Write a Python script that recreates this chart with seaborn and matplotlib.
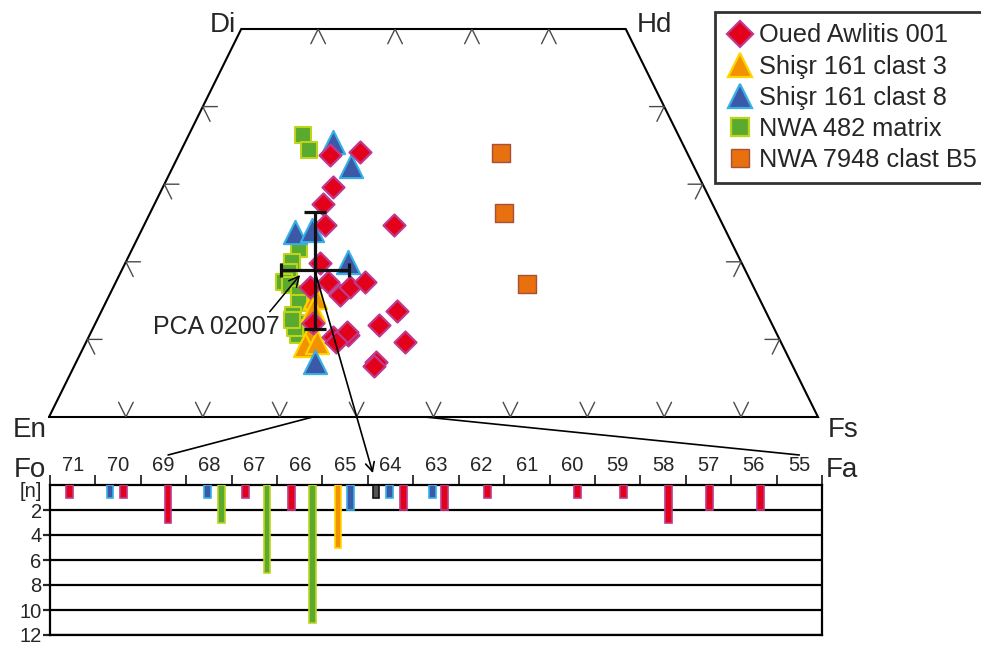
import matplotlib
matplotlib.use("Agg")
import matplotlib.pyplot as plt
import numpy as np
import pandas as pd
import seaborn as sns
from matplotlib.lines import Line2D
from matplotlib.patches import ConnectionPatch
from matplotlib.transforms import blended_transform_factory

# --- pyroxene quadrilateral data (mol%: Fs, Wo) ---
oa_fs = [19.7, 23.4, 22.1, 21.9, 23.6, 32.5, 25.3, 27.6, 25.6, 30.0, 30.8,
         32.4, 28.3, 31.8, 33.6, 36.9, 38.5, 41.4, 39.0, 39.0, 33.2, 32.5]
oa_wo = [33.8, 34.2, 29.7, 27.5, 24.7, 24.7, 19.8, 17.4, 16.8, 15.7, 16.8,
         17.4, 12.1, 10.3, 10.6, 11.9, 13.6, 9.7, 7.1, 6.6, 11.0, 9.7]
s3_fs = [26.9, 27.4, 28.7, 28.6, 30.0]
s3_wo = [15.5, 13.8, 10.6, 9.3, 9.7]
s8_fs = [19.2, 23.1, 20.1, 22.1, 28.9, 31.0]
s8_wo = [35.5, 32.3, 23.9, 24.1, 20.0, 7.1]
nwa482_fs = [14.9, 16.6, 21.7, 21.6, 21.8, 21.9, 22.8, 24.5, 25.1, 25.2,
             26.4, 27.1, 26.3, 25.4]
nwa482_wo = [36.3, 34.4, 21.7, 20.0, 18.7, 17.4, 17.0, 15.9, 14.7, 13.1,
             12.1, 10.6, 11.5, 12.5]
nwa7948_fs = [41.8, 46.0, 53.5]
nwa7948_wo = [34.0, 26.3, 17.2]

# PCA 02007 mean and spread
pca_fs, pca_wo = 25.1, 18.9
pca_x_err, pca_wo_err = 4.4, 7.5

# --- olivine histogram (Fo, count) ---
oa_fo = [71.07, 69.89, 68.90, 67.20, 66.19, 63.72, 62.81, 61.86, 59.88,
         58.88, 57.88, 56.97, 55.86]
oa_n = [1, 1, 3, 1, 2, 2, 2, 1, 1, 1, 3, 2, 2]
s3_fo = [65.16]
s3_n = [5]
s8_fo = [70.18, 68.04, 64.88, 64.02, 63.07]
s8_n = [1, 1, 2, 1, 1]
nwa482_fo = [67.73, 66.72, 65.72]
nwa482_n = [3, 7, 11]
pca_fo = [64.32]
pca_n = [1]

fo_labels = list(range(71, 54, -1))
quad_ticks = [10, 20, 30, 40]
base_ticks = list(range(10, 100, 10))

# links between the quadrilateral base (Fs) and the Fo scale
link_fs = [34.3, 48.9]
link_fo = [68.9, 55.0]

labels = ["Oued Awlitis 001", "Shişr 161 clast 3", "Shişr 161 clast 8",
          "NWA 482 matrix", "NWA 7948 clast B5"]

RED, RED_E = "#e2001a", "#c0398c"
ORA, ORA_E = "#f39200", "#ffd400"
BLU, BLU_E = "#3b59a6", "#36b0e6"
GRN, GRN_E = "#5aaa30", "#bed41c"
BRN, BRN_E = "#e8700e", "#a4513a"

sns.set_style("white")
plt.rcParams["font.family"] = ["Liberation Sans", "DejaVu Sans"]


def proj(fs, wo):
    fs = np.asarray(fs, dtype=float)
    wo = np.asarray(wo, dtype=float)
    return fs + wo / 2, wo


fig = plt.figure(figsize=(9.81, 6.45), dpi=100)
ax_t = fig.add_axes([49 / 981, 1 - 417 / 645, 769 / 981, 388 / 645])
ax_h = fig.add_axes([50 / 981, 10 / 645, 772 / 981, 150 / 645])

# quadrilateral outline
ax_t.set_xlim(0, 100)
ax_t.set_ylim(0, 50)
ax_t.axis("off")
qx, qy = proj([0, 100, 50, 0, 0], [0, 0, 50, 50, 0])
ax_t.plot(qx, qy, color="black", lw=1.5, solid_joinstyle="miter", clip_on=False)

d = 1.9
chev = []
for f in base_ticks:
    chev.append([(f, d), (f, 0), (f - d, d)])
for f in quad_ticks:
    chev.append([(f, 50 - d), (f, 50), (f + d, 50 - d)])
for w in quad_ticks:
    chev.append([(d, w), (0, w), (d, w - d)])
    chev.append([(100 - w - d, w), (100 - w, w), (100 - w, w - d)])
for c in chev:
    cx, cy = proj([p[0] for p in c], [p[1] for p in c])
    ax_t.plot(cx, cy, color="#4a4a4a", lw=1.0)

# corner labels
corner_kw = dict(fontsize=20, textcoords="offset points")
ax_t.annotate("Di", xy=proj(0, 50), xytext=(-4, -2), ha="right", va="baseline", **corner_kw)
ax_t.annotate("Hd", xy=proj(50, 50), xytext=(8, -2), ha="left", va="baseline", **corner_kw)
ax_t.annotate("En", xy=proj(0, 0), xytext=(-2, 0), ha="right", va="top", **corner_kw)
ax_t.annotate("Fs", xy=proj(100, 0), xytext=(7, 0), ha="left", va="top", **corner_kw)

# data points
series = [
    (nwa482_fs, nwa482_wo, "s", 140, GRN, GRN_E, 1.5, 2),
    (nwa7948_fs, nwa7948_wo, "s", 150, BRN, BRN_E, 1.0, 2),
    (s3_fs, s3_wo, "^", 280, ORA, ORA_E, 1.5, 3),
    (s8_fs, s8_wo, "^", 280, BLU, BLU_E, 1.5, 4),
    (oa_fs, oa_wo, "D", 125, RED, RED_E, 1.6, 5),
]
for fs, wo, mk, size, fc, ec, lw, z in series:
    px, py = proj(fs, wo)
    df = pd.DataFrame({"x": px, "y": py})
    sns.scatterplot(data=df, x="x", y="y", ax=ax_t, marker=mk, s=size,
                    color=fc, edgecolor=ec, linewidth=lw, zorder=z, legend=False)
ax_t.set_xlabel("")
ax_t.set_ylabel("")

# PCA 02007 cross
cx, cy = proj(pca_fs, pca_wo)
ax_t.errorbar(cx, cy, yerr=pca_wo_err, color="#111111", lw=2.3, capsize=8,
              capthick=2.3, zorder=6)
ax_t.errorbar(cx, cy, xerr=pca_x_err, color="#111111", lw=2.3, capsize=5,
              capthick=2.3, zorder=6)
ax_t.annotate("PCA 02007", xy=proj(23.5, 18.3), xytext=proj(24.2, 11.6),
              fontsize=18, ha="right", va="center", zorder=7,
              arrowprops=dict(arrowstyle="->", color="black", lw=1.1,
                              relpos=(0.9, 1.0), shrinkA=0, shrinkB=0))

# histogram
ax_h.set_xlim(71.5, 54.5)
ax_h.set_ylim(12, 0)
bars = [
    (oa_fo, oa_n, RED, RED_E),
    (s3_fo, s3_n, ORA, ORA_E),
    (s8_fo, s8_n, BLU, BLU_E),
    (nwa482_fo, nwa482_n, GRN, GRN_E),
    (pca_fo, pca_n, "#555555", "#111111"),
]
for fo, n, fc, ec in bars:
    ax_h.bar(fo, n, width=0.15, color=fc, edgecolor=ec, linewidth=1.2, zorder=3)

ax_h.set_yticks(range(2, 13, 2))
ax_h.set_yticklabels([str(v) for v in range(2, 13, 2)], fontsize=14.5)
ax_h.grid(axis="y", color="black", lw=1.6, zorder=1)
ax_h.grid(axis="x", visible=False)
ax_h.tick_params(axis="y", length=5, width=1.6, pad=1, direction="out", left=True)
ax_h.xaxis.tick_top()
ax_h.set_xticks(fo_labels)
ax_h.set_xticklabels([str(v) for v in fo_labels], fontsize=14.5)
ax_h.set_xticks(np.arange(71.5, 54.0, -1.0), minor=True)
ax_h.tick_params(axis="x", which="major", length=0, pad=7)
ax_h.tick_params(axis="x", which="minor", length=7, width=1.3, direction="out",
                 top=True, bottom=False)
for sp in ax_h.spines.values():
    sp.set_color("black")
    sp.set_linewidth(1.6)

ax_h.text(-0.01, 0.55, "[n]", fontsize=14.5, ha="right", va="center",
          transform=blended_transform_factory(ax_h.transAxes, ax_h.transData))
ax_h.annotate("Fo", xy=(0, 1), xycoords="axes fraction", xytext=(-3, 6),
              textcoords="offset points", fontsize=20, ha="right", va="baseline")
ax_h.annotate("Fa", xy=(1, 1), xycoords="axes fraction", xytext=(3, 6),
              textcoords="offset points", fontsize=20, ha="left", va="baseline")

# connecting lines
for fs_val, fo_val in zip(link_fs, link_fo):
    fig.add_artist(ConnectionPatch(xyA=(fs_val, 0), coordsA=ax_t.transData,
                                   xyB=(fo_val, -2.4), coordsB=ax_h.transData,
                                   color="black", lw=1.2))
fig.add_artist(ConnectionPatch(xyA=(cx, cy), coordsA=ax_t.transData,
                               xyB=(pca_fo[0] + 0.07, -0.95), coordsB=ax_h.transData,
                               arrowstyle="->", mutation_scale=16,
                               color="black", lw=1.2, zorder=8))

# legend
handles = [
    Line2D([], [], ls="", marker="D", ms=13, mfc=RED, mec=RED_E, mew=1.6),
    Line2D([], [], ls="", marker="^", ms=17, mfc=ORA, mec=ORA_E, mew=1.6),
    Line2D([], [], ls="", marker="^", ms=17, mfc=BLU, mec=BLU_E, mew=1.6),
    Line2D([], [], ls="", marker="s", ms=13, mfc=GRN, mec=GRN_E, mew=1.6),
    Line2D([], [], ls="", marker="s", ms=13, mfc=BRN, mec=BRN_E, mew=1.0),
]
leg = fig.legend(handles, labels, loc="upper left",
                 bbox_to_anchor=(715 / 981, 1 - 12 / 645), fontsize=18.3,
                 frameon=True, fancybox=False, borderaxespad=0, borderpad=0.45,
                 handlelength=1.1, handletextpad=0.2, labelspacing=0.28)
leg.get_frame().set_edgecolor("black")
leg.get_frame().set_linewidth(2)

fig.savefig("out.png", dpi=100)
